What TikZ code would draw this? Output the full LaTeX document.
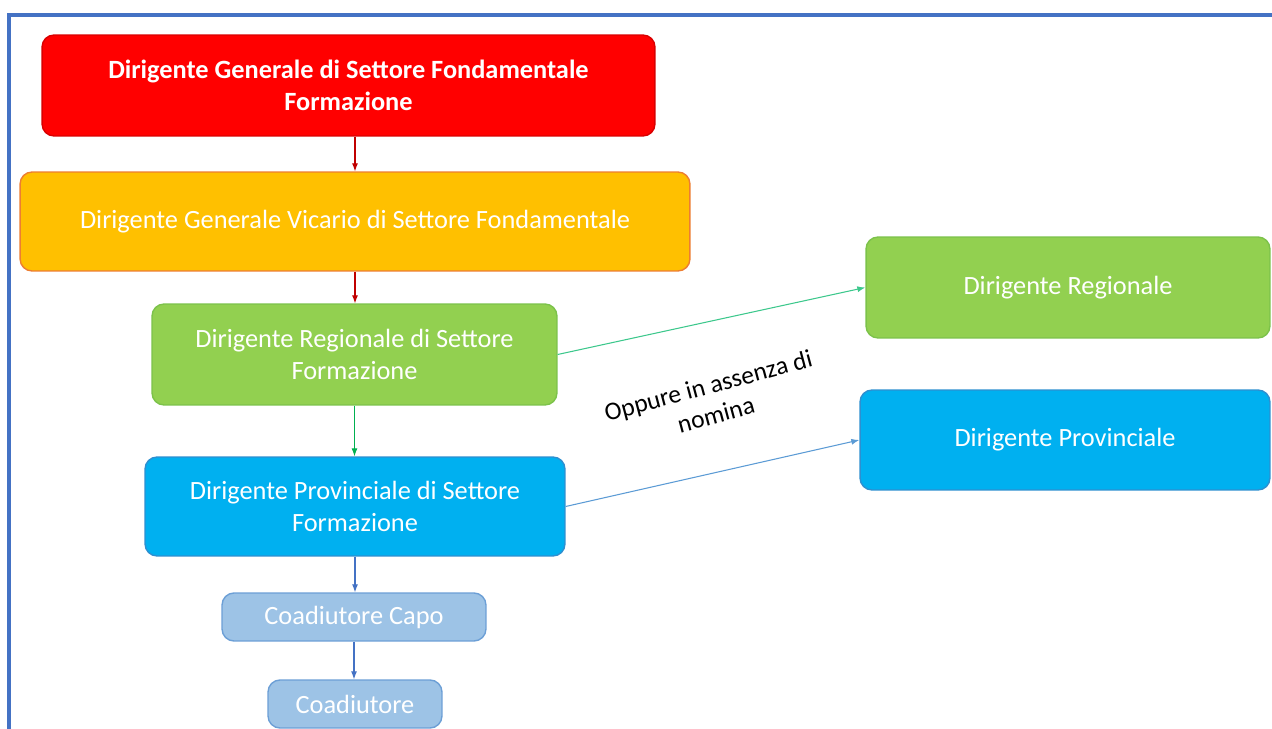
\documentclass[tikz,border=0pt]{standalone}
\usepackage{fontspec}
\setmainfont{Carlito}
\usepackage{xcolor}
\definecolor{frameBlue}{HTML}{4472C4}
\definecolor{boxRed}{HTML}{FF0000}
\definecolor{boxOrange}{HTML}{FFC000}
\definecolor{lineOrange}{HTML}{ED7D31}
\definecolor{boxGreen}{HTML}{92D050}
\definecolor{lineGreen}{HTML}{7CC24A}
\definecolor{boxBlue}{HTML}{00B0F0}
\definecolor{lineBlue}{HTML}{2E8FD0}
\definecolor{boxPale}{HTML}{9DC3E6}
\definecolor{linePale}{HTML}{6C9FD6}
\definecolor{arrRed}{HTML}{C00000}
\definecolor{arrGreen}{HTML}{00B050}
\definecolor{arrTeal}{HTML}{3CC88C}
\definecolor{arrBlue}{HTML}{4472C4}
\definecolor{arrSky}{HTML}{5B9BD5}
\usetikzlibrary{arrows.meta}

\tikzset{
  orgbox/.style={rectangle, rounded corners=0.24cm, line width=0.8pt, text=white,
    align=center, inner sep=0pt, font=\fontsize{15}{18}\selectfont},
  orgarrow/.style={line width=0.6pt, -{Latex[length=1.6mm, width=1.2mm]}}
}

\begin{document}
\begin{tikzpicture}[x=0.02cm, y=-0.02cm]
  \useasboundingbox (0,0) rectangle (1272,729);
  \fill[white] (0,0) rectangle (1272,729);
  \draw[frameBlue, line width=1.8pt] (9,729) -- (9,15) -- (1272,15);
  % colonna centrale
  \node[orgbox, fill=boxRed, draw=boxRed!85!black, minimum width=12.26cm, minimum height=2.02cm, font=\fontsize{15}{18}\selectfont\bfseries] (gen) at (348.5,85.5) {Dirigente Generale di Settore Fondamentale\\Formazione};
  \node[orgbox, fill=boxOrange, draw=lineOrange, minimum width=13.4cm, minimum height=1.98cm] (vic) at (355,221.5) {Dirigente Generale Vicario di Settore Fondamentale};
  \node[orgbox, fill=boxGreen, draw=lineGreen, minimum width=8.1cm, minimum height=2.02cm] (reg) at (354.5,354.5) {Dirigente Regionale di Settore\\Formazione};
  \node[orgbox, fill=boxBlue, draw=lineBlue, minimum width=8.4cm, minimum height=1.98cm] (prov) at (355,506.5) {Dirigente Provinciale di Settore\\Formazione};
  \node[orgbox, fill=boxPale, draw=linePale, minimum width=5.28cm, minimum height=0.96cm] (capo) at (354,617) {Coadiutore Capo};
  \node[orgbox, fill=boxPale, draw=linePale, minimum width=3.48cm, minimum height=0.96cm] (coad) at (355,704) {Coadiutore};
  % colonna destra
  \node[orgbox, fill=boxGreen, draw=lineGreen, minimum width=8.08cm, minimum height=2.02cm] (dreg) at (1068,287.5) {Dirigente Regionale};
  \node[orgbox, fill=boxBlue, draw=lineBlue, minimum width=8.2cm, minimum height=2.0cm] (dprov) at (1065,440) {Dirigente Provinciale};
  \node[rotate=15, align=center, font=\fontsize{14.5}{17}\selectfont] (nota) at (712,400) {Oppure in assenza di\\nomina};
  % frecce
  \draw[orgarrow, arrRed] (gen.south -| vic.north) -- (vic.north);
  \draw[orgarrow, arrRed] (vic.south) -- (reg.north -| vic.south);
  \draw[orgarrow, arrGreen] (reg.south) -- (prov.north -| reg.south);
  \draw[orgarrow, arrBlue] (prov.south) -- (capo.north -| prov.south);
  \draw[orgarrow, arrBlue] (capo.south) -- (coad.north -| capo.south);
  \draw[orgarrow, arrTeal] (reg.east) -- (dreg.west);
  \draw[orgarrow, arrSky] (prov.east) -- (dprov.west);
\end{tikzpicture}
\end{document}
